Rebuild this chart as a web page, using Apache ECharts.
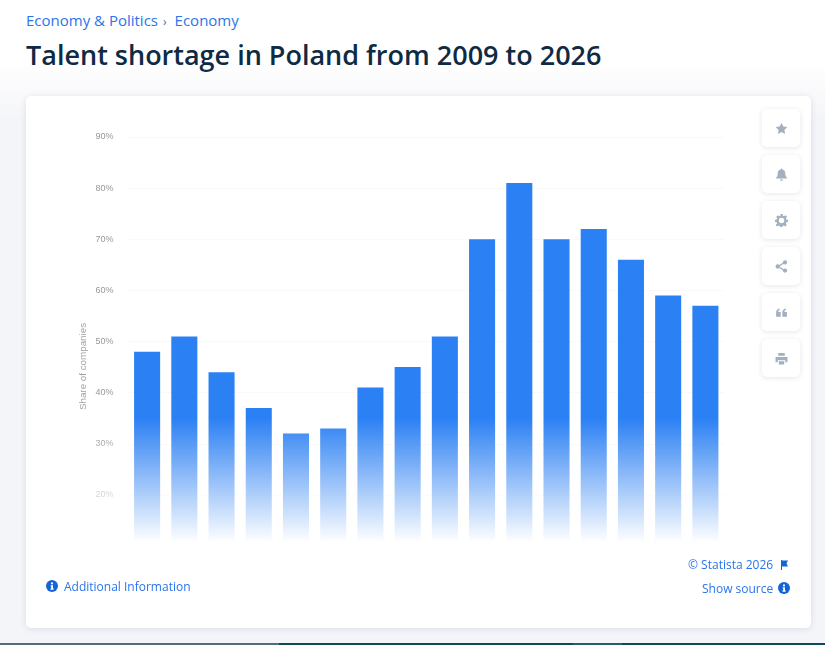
<!DOCTYPE html>
<html>
<head>
<meta charset="utf-8">
<title>Talent shortage in Poland</title>
<script src="https://cdn.jsdelivr.net/npm/echarts@6/dist/echarts.min.js"></script>
<style>
  html, body { margin: 0; padding: 0; width: 825px; height: 645px; overflow: hidden; background: #fff; }
  body { position: relative; font-family: "Open Sans", sans-serif; }
  #wash { position: absolute; left: 0; top: 60px; width: 825px; height: 583px;
          background: linear-gradient(#fff 0, #f4f5f8 60px, #f4f5f8 100%); }
  .strip { position: absolute; top: 643px; height: 2px; }
  #crumbs { position: absolute; left: 26px; top: 11px; font-size: 15px; line-height: 18px; color: #2a74ec; white-space: nowrap; }
  #crumbs i { font-style: normal; color: #5b6b7c; margin: 0 8px 0 5px; font-size: 12px; }
  h1 { position: absolute; left: 26px; top: 38px; margin: 0; font-size: 27px; line-height: 34px; font-weight: 600; color: #0f2a43; white-space: nowrap; }
  #card { position: absolute; left: 26px; top: 96px; width: 785px; height: 532px; background: #fff; border-radius: 5px;
          box-shadow: 0 1px 6px rgba(30,50,80,.12); }
  #chart { position: absolute; left: 26px; top: 96px; width: 785px; height: 532px; filter: blur(0.45px); }
  .tool { position: absolute; left: 762px; width: 38px; height: 38px; background: #fff; border-radius: 5px;
          box-shadow: 0 1px 5px rgba(30,50,80,.12); display: flex; align-items: center; justify-content: center; }
  .tool svg { width: 13px; height: 13px; fill: #a3b0bf; }
  .link { position: absolute; font-size: 12px; line-height: 16px; color: #2a74ec; white-space: nowrap; }
  .ic { position: absolute; }
</style>
</head>
<body>
<div id="wash"></div>
<div class="strip" style="left:0;width:279px;background:#4f7079"></div>
<div class="strip" style="left:279px;width:294px;background:#0e4a5a"></div>
<div class="strip" style="left:573px;width:49px;background:#22606e"></div>
<div class="strip" style="left:622px;width:203px;background:#0e4a5a"></div>
<div id="crumbs">Economy &amp; Politics<i>›</i>Economy</div>
<h1>Talent shortage in Poland from 2009 to 2026</h1>
<div id="card"></div>
<div id="chart"></div>

<div class="tool" style="top:109px"><svg viewBox="0 0 24 24"><path d="M12 1.5l3.3 6.9 7.5 1-5.5 5.2 1.4 7.5L12 18.500l-6.700 3.600 1.400-7.500L1.200 9.400l7.500-1z"/></svg></div>
<div class="tool" style="top:155px"><svg viewBox="0 0 24 24"><path d="M12 1c-1 0-1.700.7-1.700 1.600C6.900 3.400 5 6.200 5 9.500c0 5-1.300 6.500-3 8.500v1.500h20V18c-1.700-2-3-3.500-3-8.500 0-3.300-1.900-6.100-5.300-6.900C13.700 1.700 13 1 12 1zM9 21c0 1.300 1.300 2.500 3 2.500s3-1.200 3-2.500z"/></svg></div>
<div class="tool" style="top:201px"><svg viewBox="0 0 24 24"><path fill-rule="evenodd" d="M10 1h4l.6 3 2.300 1 2.600-1.700 2.800 2.800L20 8.700l1 2.300 3 .6v4l-3 .6-1 2.300 1.700 2.600-2.800 2.800-2.600-1.700-2.300 1-.6 2.800h-4l-.6-2.800-2.300-1-2.600 1.700-2.800-2.800L4 18.500 3 16.200l-3-.6v-4l3-.6 1-2.300-1.700-2.600 2.800-2.800L7.700 5 10 4zM12 8a5 5 0 1 0 0 10 5 5 0 0 0 0-10z" transform="translate(0 -1)"/></svg></div>
<div class="tool" style="top:247px"><svg viewBox="0 0 24 24"><circle cx="18.500" cy="4.500" r="4"/><circle cx="5" cy="12" r="4"/><circle cx="18.500" cy="19.500" r="4"/><path d="M5 12L18.500 4.500M5 12l13.500 7.500" stroke="#a3b0bf" stroke-width="2.500"/></svg></div>
<div class="tool" style="top:293px"><svg viewBox="0 0 24 24"><path d="M2 20v-8c0-4 2-6.500 6-7.500l1 2.200C7 7.500 6 8.500 6 11h4.500v9zM13.500 20v-8c0-4 2-6.500 6-7.500l1 2.200c-2 .8-3 1.800-3 4.300H22v9z"/></svg></div>
<div class="tool" style="top:339px"><svg viewBox="0 0 24 24"><path d="M6 2h12v5H6zM1 9h22v10h-4v-4H5v4H1zM7 17h10v6H7z"/></svg></div>

<div class="link" style="left:688px;top:557px">© Statista 2026</div>
<svg class="ic" style="left:779px;top:559px" width="11" height="12" viewBox="0 0 11 12"><path d="M2 1h1v10H2zM3 1.500h6L7.500 4.500 9 7.500H3z" fill="#1464d8"/></svg>
<div class="link" style="left:702px;top:581px">Show source</div>
<svg class="ic" style="left:778px;top:582px" width="12" height="12" viewBox="0 0 12 12"><circle cx="6" cy="6" r="6" fill="#1464d8"/><path d="M5 2.500h2v1.800H5zM4.700 5.300h2.300v3.200h.6v1.200H4.500V8.500h.7V6.500h-.5z" fill="#fff"/></svg>
<svg class="ic" style="left:46px;top:580px" width="12" height="12" viewBox="0 0 12 12"><circle cx="6" cy="6" r="6" fill="#1464d8"/><path d="M5 2.500h2v1.800H5zM4.700 5.300h2.300v3.200h.6v1.200H4.500V8.500h.7V6.500h-.5z" fill="#fff"/></svg>
<div class="link" style="left:64px;top:579px">Additional Information</div>

<script>
// Survey years shown on the category axis (labels stay hidden under the fade).
const years = ['2009','2010','2011','2012','2013','2014','2015','2016','2018','2020','2021','2022','2023','2024','2025','2026'];
// Share of companies reporting difficulty filling jobs, in percent.
const shortageShare = [48, 51, 44, 37, 32, 33, 41, 45, 51, 70, 81, 70, 72, 66, 59, 57];
const axisMin = 10;
const axisMax = 90;
const axisStep = 10;

const chart = echarts.init(document.getElementById('chart'), null, { renderer: 'canvas' });
chart.setOption({
  animation: false,
  grid: { left: 102.500, right: 87, top: 41, bottom: 82 },
  xAxis: {
    type: 'category',
    data: years,
    axisLine: { show: false },
    axisTick: { show: false },
    axisLabel: { show: false }
  },
  yAxis: {
    type: 'value',
    min: axisMin,
    max: axisMax,
    interval: axisStep,
    name: 'Share of companies',
    nameLocation: 'middle',
    nameGap: 40,
    nameMoveOverlap: false,
    nameTextStyle: { color: '#a2a2a2', fontSize: 9.800, fontFamily: 'Liberation Sans', padding: [0, 50, 0, 0] },
    axisLine: { show: false },
    axisTick: { show: false },
    axisLabel: {
      color: '#989898',
      fontSize: 9,
      fontFamily: 'Liberation Sans',
      margin: 15,
      formatter: v => (v === axisMin ? '' : v + '%')
    },
    splitLine: { lineStyle: { color: '#f3f3f3', width: 1, type: 'dotted' } }
  },
  series: [{
    type: 'bar',
    data: shortageShare,
    barWidth: '70%',
    itemStyle: { color: '#2b80f3' }
  }],
  // White veil that dissolves the lower part of the plot into the card.
  graphic: [{
    type: 'rect',
    z: 100,
    shape: { x: 0, y: 322, width: 740, height: 134 },
    style: {
      fill: new echarts.graphic.LinearGradient(0, 0, 0, 1, [
        { offset: 0, color: 'rgba(255,255,255,0)' },
        { offset: 0.93, color: 'rgba(255,255,255,1)' },
        { offset: 1, color: 'rgba(255,255,255,1)' }
      ])
    }
  }]
});
</script>
</body>
</html>
